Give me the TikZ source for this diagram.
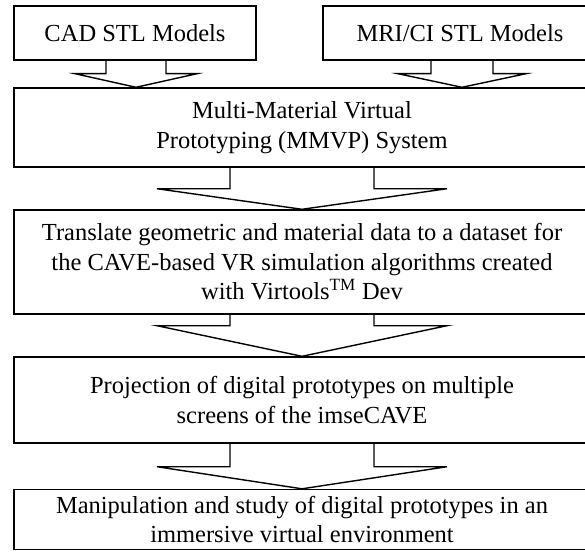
\documentclass[tikz,border=0pt]{standalone}
\usepackage{fontspec}
\setmainfont{Liberation Serif}
\usepackage{tikz}
\usetikzlibrary{calc}

\tikzset{
    stage/.style={draw, line width=1.4pt, align=center, inner sep=0pt,
        font=\fontsize{24.5}{29.5}\selectfont},
    arrowline/.style={draw, line width=1.4pt}
}

% hollow down arrow: centre x, upper node, lower node, shaft half, head half, shaft length
\newcommand{\hollowarrow}[6]{
    \draw[arrowline] let \p1 = (#2.south), \p2 = (#3.north) in
        ({#1pt-#4pt}, \y1) -- ({#1pt-#4pt}, {\y1-#6pt}) -- ({#1pt-#5pt}, {\y1-#6pt})
        -- (#1pt, \y2) -- ({#1pt+#5pt}, {\y1-#6pt}) -- ({#1pt+#4pt}, {\y1-#6pt})
        -- ({#1pt+#4pt}, \y1);
}

\begin{document}
\begin{tikzpicture}[x=1pt, y=-1pt]
        \useasboundingbox (0, 0) rectangle (585, 559);
        \clip (0, 0) rectangle (585, 559);
        \fill[white] (0, 0) rectangle (585, 559);

        \node[stage, minimum width=242pt, minimum height=54pt] (cad) at (135, 33) {CAD STL Models};
        \node[stage, minimum width=274pt, minimum height=54pt] (mri) at (460, 33) {MRI/CI STL Models};

        \node[stage, minimum width=576pt, minimum height=79pt] (mmvp) at (302, 127.5)
            {Multi-Material Virtual\\Prototyping (MMVP) System};
        \node[stage, minimum width=576pt, minimum height=104pt] (translate) at (302, 262)
            {Translate geometric and material data to a dataset for\\
             the CAVE-based VR simulation algorithms created\\
             with Virtools\textsuperscript{TM} Dev};
        \node[stage, minimum width=576pt, minimum height=86pt] (projection) at (302, 400)
            {Projection of digital prototypes on multiple\\screens of the imseCAVE};
        \node[stage, minimum width=576pt, minimum height=60pt] (study) at (302, 519.5)
            {Manipulation and study of digital prototypes in an\\immersive virtual environment};

        \hollowarrow{136}{cad}{mmvp}{30}{61}{13}
        \hollowarrow{462}{mri}{mmvp}{31}{64}{13}
        \hollowarrow{302}{mmvp}{translate}{72}{145}{21}
        \hollowarrow{302}{translate}{projection}{72}{145}{11}
        \hollowarrow{302}{projection}{study}{72}{145}{23}
    \end{tikzpicture}
\end{document}
